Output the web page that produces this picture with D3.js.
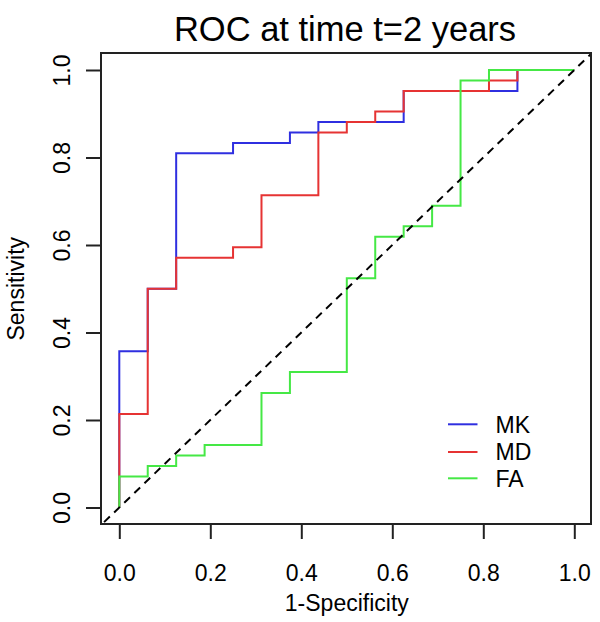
<!DOCTYPE html>
<html>
<head>
<meta charset="utf-8">
<script src="https://cdn.jsdelivr.net/npm/d3@7"></script>
<style>
  html, body { margin: 0; padding: 0; background: #fff; }
  svg { display: block; font-family: "Liberation Sans", Arial, sans-serif; }
</style>
</head>
<body>
<svg id="chart" width="600" height="622"></svg>
<script>
// ---- Data (ROC corner points) ----
const seriesNames = ["MK", "MD", "FA"];
const seriesColors = ["#2f2fe0", "#e63333", "#45e845"];

const mkFpr = [0, 0, 0.0625, 0.125, 0.25, 0.375, 0.4375, 0.625, 0.875, 1];
const mkTpr = [0, 0.357, 0.5, 0.810, 0.833, 0.857, 0.881, 0.952, 1, 1];

const mdFpr = [0, 0, 0.0625, 0.125, 0.25, 0.3125, 0.4375, 0.5, 0.5625, 0.625, 0.8125, 0.875, 1];
const mdTpr = [0, 0.214, 0.5, 0.571, 0.595, 0.714, 0.857, 0.881, 0.905, 0.952, 0.976, 1, 1];

const faFpr = [0, 0, 0.0625, 0.125, 0.1875, 0.3125, 0.375, 0.5, 0.5625, 0.625, 0.6875, 0.75, 0.8125, 1];
const faTpr = [0, 0.071, 0.095, 0.119, 0.143, 0.262, 0.310, 0.524, 0.619, 0.643, 0.690, 0.976, 1, 1];

const tickValues = [0, 0.2, 0.4, 0.6, 0.8, 1.0];
const tickLabels = ["0.0", "0.2", "0.4", "0.6", "0.8", "1.0"];

const titleText = "ROC at time t=2 years";
const xLabel = "1-Specificity";
const yLabel = "Sensitivity";

// ---- Layout ----
const svg = d3.select("#chart");
const box = { left: 101, right: 591, top: 53, bottom: 524 };
const x = d3.scaleLinear().domain([0, 1]).range([119.3, 574.3]);
const y = d3.scaleLinear().domain([0, 1]).range([507.5, 70]);
const fontSize = 23;

const series = [
  { name: seriesNames[0], color: seriesColors[0], fpr: mkFpr, tpr: mkTpr },
  { name: seriesNames[1], color: seriesColors[1], fpr: mdFpr, tpr: mdTpr },
  { name: seriesNames[2], color: seriesColors[2], fpr: faFpr, tpr: faTpr }
];

svg.append("defs").append("clipPath").attr("id", "plotclip")
  .append("rect")
  .attr("x", box.left).attr("y", box.top)
  .attr("width", box.right - box.left).attr("height", box.bottom - box.top);

const line = d3.line()
  .x(d => x(d[0]))
  .y(d => y(d[1]))
  .curve(d3.curveStepAfter);

const plot = svg.append("g").attr("clip-path", "url(#plotclip)");
series.forEach(s => {
  const pts = s.fpr.map((f, i) => [f, s.tpr[i]]);
  plot.append("path")
    .datum(pts)
    .attr("d", line)
    .attr("fill", "none")
    .attr("stroke", s.color)
    .attr("stroke-width", 2)
    .attr("stroke-linejoin", "miter");
});

// diagonal reference line (abline 0,1) across the full plot region
plot.append("line")
  .attr("x1", x(-0.1)).attr("y1", y(-0.1))
  .attr("x2", x(1.1)).attr("y2", y(1.1))
  .attr("stroke", "#000")
  .attr("stroke-width", 2)
  .attr("stroke-dasharray", "8,6");

// box
svg.append("rect")
  .attr("x", box.left).attr("y", box.top)
  .attr("width", box.right - box.left).attr("height", box.bottom - box.top)
  .attr("fill", "none").attr("stroke", "#222").attr("stroke-width", 2);

// x axis
const xAxis = svg.append("g")
  .attr("transform", `translate(0,${box.bottom})`)
  .call(d3.axisBottom(x).tickValues(tickValues)
    .tickFormat((d, i) => tickLabels[i]).tickSize(15).tickSizeOuter(0));
xAxis.select(".domain").remove();
xAxis.selectAll(".tick line").attr("stroke", "#222").attr("stroke-width", 2);
xAxis.selectAll(".tick text")
  .attr("y", 57).attr("dy", null)
  .attr("font-size", fontSize).attr("fill", "#000")
  .attr("font-family", "Liberation Sans, Arial, sans-serif");

// y axis
const yAxis = svg.append("g")
  .attr("transform", `translate(${box.left},0)`)
  .call(d3.axisLeft(y).tickValues(tickValues)
    .tickFormat((d, i) => tickLabels[i]).tickSize(15).tickSizeOuter(0));
yAxis.select(".domain").remove();
yAxis.selectAll(".tick line").attr("stroke", "#222").attr("stroke-width", 2);
yAxis.selectAll(".tick text")
  .attr("transform", "rotate(-90)")
  .attr("x", 0).attr("y", -31).attr("dy", null)
  .attr("text-anchor", "middle")
  .attr("font-size", fontSize).attr("fill", "#000")
  .attr("font-family", "Liberation Sans, Arial, sans-serif");

// title
svg.append("text")
  .attr("x", 345).attr("y", 41)
  .attr("text-anchor", "middle")
  .attr("font-size", 34.5)
  .attr("fill", "#000")
  .text(titleText);

// axis labels
svg.append("text")
  .attr("x", (x(0) + x(1)) / 2).attr("y", 611)
  .attr("text-anchor", "middle")
  .attr("font-size", fontSize)
  .attr("fill", "#000")
  .text(xLabel);

svg.append("text")
  .attr("transform", `translate(24,${(y(0) + y(1)) / 2}) rotate(-90)`)
  .attr("text-anchor", "middle")
  .attr("font-size", fontSize)
  .attr("fill", "#000")
  .text(yLabel);

// legend
const legendY = [424.3, 452, 478.3];
const legend = svg.append("g");
series.forEach((s, i) => {
  legend.append("line")
    .attr("x1", 448).attr("x2", 477.5)
    .attr("y1", legendY[i]).attr("y2", legendY[i])
    .attr("stroke", s.color).attr("stroke-width", 2);
  legend.append("text")
    .attr("x", 495.5).attr("y", legendY[i])
    .attr("dy", "0.36em")
    .attr("font-size", fontSize)
    .attr("fill", "#000")
    .text(s.name);
});
</script>
</body>
</html>
